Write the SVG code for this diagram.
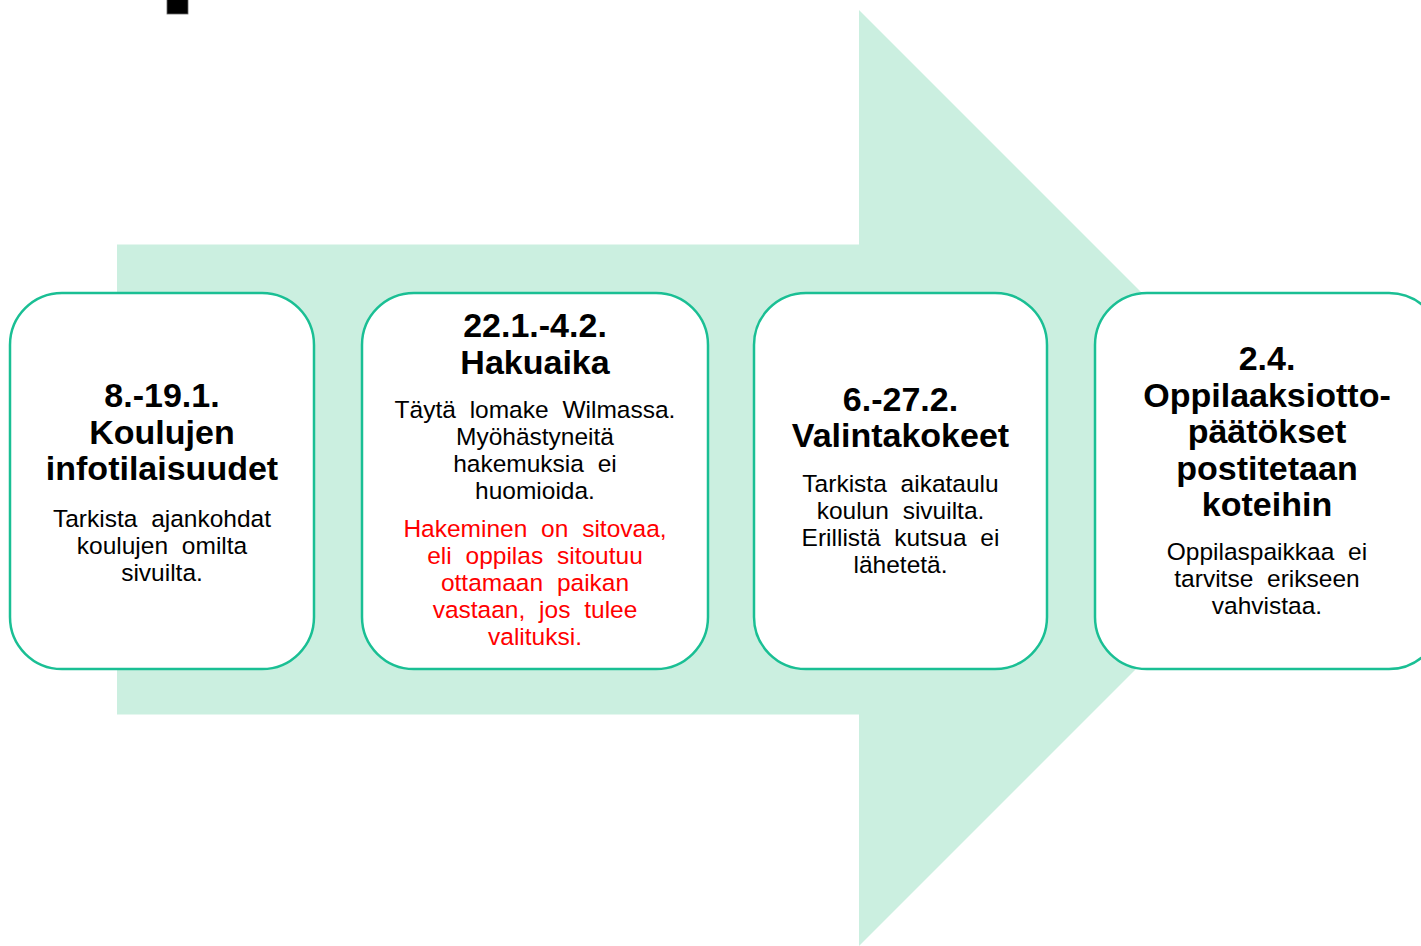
<svg xmlns="http://www.w3.org/2000/svg" width="1421" height="946" viewBox="0 0 1421 946">
<style>
.box{fill:#ffffff;stroke:#1abf94;stroke-width:2.5}
.t{font-family:"Liberation Sans",Arial,sans-serif;font-size:34px;font-weight:bold;fill:#000;text-anchor:middle}
.b{font-family:"Liberation Sans",Arial,sans-serif;font-size:24.5px;fill:#000;text-anchor:middle;word-spacing:7px}
.r{fill:#ff0000}
</style>
<rect width="1421" height="946" fill="#ffffff"/>
<rect x="167" y="-1" width="21" height="15" fill="#000000" stroke="#666666" stroke-width="0.8"/>
<g id="arrow">
<polygon points="117,244.5 859,244.5 859,10 1327,478 859,946 859,714.5 117,714.5" fill="#cbefe0"/>
</g>
<g id="connectors"></g>
<g id="node1">
<rect class="box" x="10" y="293" width="304" height="376" rx="52" ry="52"/>
<text class="t"><tspan x="162" y="407">8.-19.1.</tspan><tspan x="162" y="443.5">Koulujen</tspan><tspan x="162" y="480">infotilaisuudet</tspan></text>
<text class="b"><tspan x="162" y="527">Tarkista ajankohdat</tspan><tspan x="162" y="554">koulujen omilta</tspan><tspan x="162" y="581">sivuilta.</tspan></text>
</g>
<g id="node2">
<rect class="box" x="362" y="293" width="346" height="376" rx="52" ry="52"/>
<text class="t"><tspan x="535" y="337">22.1.-4.2.</tspan><tspan x="535" y="373.5">Hakuaika</tspan></text>
<text class="b"><tspan x="535" y="418">Täytä lomake Wilmassa.</tspan><tspan x="535" y="445">Myöhästyneitä</tspan><tspan x="535" y="472">hakemuksia ei</tspan><tspan x="535" y="499">huomioida.</tspan></text>
<text class="b r"><tspan x="535" y="537">Hakeminen on sitovaa,</tspan><tspan x="535" y="564">eli oppilas sitoutuu</tspan><tspan x="535" y="591">ottamaan paikan</tspan><tspan x="535" y="618">vastaan, jos tulee</tspan><tspan x="535" y="645">valituksi.</tspan></text>
</g>
<g id="node3">
<rect class="box" x="754" y="293" width="293" height="376" rx="52" ry="52"/>
<text class="t"><tspan x="900.5" y="411">6.-27.2.</tspan><tspan x="900.5" y="447">Valintakokeet</tspan></text>
<text class="b"><tspan x="900.5" y="492">Tarkista aikataulu</tspan><tspan x="900.5" y="519">koulun sivuilta.</tspan><tspan x="900.5" y="546">Erillistä kutsua ei</tspan><tspan x="900.5" y="573">lähetetä.</tspan></text>
</g>
<g id="node4">
<rect class="box" x="1095" y="293" width="346" height="376" rx="52" ry="52"/>
<text class="t"><tspan x="1267" y="370">2.4.</tspan><tspan x="1267" y="406.5">Oppilaaksiotto-</tspan><tspan x="1267" y="443">päätökset</tspan><tspan x="1267" y="479.5">postitetaan</tspan><tspan x="1267" y="516">koteihin</tspan></text>
<text class="b"><tspan x="1267" y="560">Oppilaspaikkaa ei</tspan><tspan x="1267" y="587">tarvitse erikseen</tspan><tspan x="1267" y="614">vahvistaa.</tspan></text>
</g>
</svg>
